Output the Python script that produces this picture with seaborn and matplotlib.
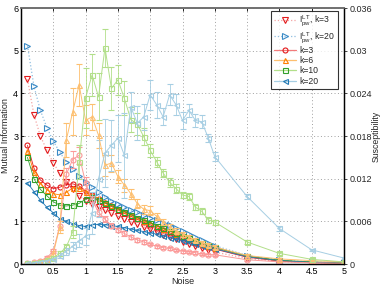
import numpy as np
import pandas as pd
import matplotlib
matplotlib.use("Agg")
import matplotlib.pyplot as plt
import seaborn as sns
from matplotlib.lines import Line2D

noise = [0.1, 0.2, 0.3, 0.4, 0.5, 0.6, 0.7, 0.8, 0.9, 1.0,
         1.1, 1.2, 1.3, 1.4, 1.5, 1.6, 1.7, 1.8, 1.9, 2.0,
         2.1, 2.2, 2.3, 2.4, 2.5, 2.6, 2.7, 2.8, 2.9, 3.0,
         3.5, 4.0, 4.5, 5.0]

# Mutual information (left axis)
ipw_k3 = [4.33, 3.50, 3.00, 2.67, 2.37, 2.13, 1.93, 1.75, 1.60, 1.48,
          1.40, 1.33, 1.26, 1.19, 1.12, 1.05, 0.99, 0.93, 0.87, 0.81,
          0.75, 0.69, 0.63, 0.58, 0.52, 0.47, 0.42, 0.37, 0.32, 0.28,
          0.13, 0.06, 0.03, 0.02]
ipw_k20 = [5.12, 4.17, 3.60, 3.20, 2.88, 2.62, 2.40, 2.22, 2.07, 1.93,
           1.80, 1.68, 1.57, 1.48, 1.40, 1.33, 1.27, 1.21, 1.15, 1.09,
           1.03, 0.97, 0.91, 0.85, 0.78, 0.71, 0.64, 0.57, 0.50, 0.43,
           0.20, 0.09, 0.05, 0.02]
mi_k3 = [2.78, 2.25, 1.97, 1.85, 1.77, 1.80, 1.86, 1.88, 1.83, 1.72,
         1.62, 1.52, 1.43, 1.35, 1.27, 1.19, 1.12, 1.05, 0.98, 0.92,
         0.85, 0.79, 0.73, 0.68, 0.62, 0.56, 0.50, 0.45, 0.40, 0.35,
         0.16, 0.07, 0.03, 0.02]
mi_k6 = [2.65, 2.15, 1.88, 1.74, 1.65, 1.62, 1.68, 1.78, 1.78, 1.70,
         1.62, 1.54, 1.46, 1.38, 1.30, 1.22, 1.15, 1.08, 1.02, 0.96,
         0.89, 0.83, 0.77, 0.71, 0.65, 0.59, 0.53, 0.48, 0.43, 0.38,
         0.18, 0.08, 0.04, 0.02]
mi_k10 = [2.50, 2.00, 1.75, 1.60, 1.46, 1.38, 1.36, 1.38, 1.42, 1.52,
          1.56, 1.50, 1.44, 1.37, 1.30, 1.23, 1.16, 1.09, 1.03, 0.97,
          0.90, 0.84, 0.78, 0.72, 0.66, 0.60, 0.54, 0.49, 0.44, 0.39,
          0.19, 0.09, 0.05, 0.03]
mi_k20 = [1.90, 1.70, 1.50, 1.33, 1.20, 1.06, 1.00, 0.95, 0.90, 0.88,
          0.92, 0.93, 0.92, 0.90, 0.88, 0.85, 0.82, 0.79, 0.76, 0.73,
          0.70, 0.66, 0.62, 0.58, 0.55, 0.51, 0.47, 0.43, 0.40, 0.36,
          0.17, 0.08, 0.04, 0.02]

# Susceptibility (right axis)
chi_k3 = [0.00012, 0.00024, 0.00048, 0.0009, 0.0018, 0.0054, 0.0126, 0.0147, 0.0153, 0.0114,
          0.0090, 0.0073, 0.0063, 0.0054, 0.0048, 0.0043, 0.0038, 0.0034, 0.0031, 0.0028,
          0.0025, 0.0023, 0.0022, 0.0020, 0.0018, 0.0017, 0.0016, 0.0014, 0.0013, 0.0013,
          0.0006, 0.0003, 0.00018, 0.00012]
chi_k6 = [0.00012, 0.00024, 0.00042, 0.00072, 0.0015, 0.0052, 0.0174, 0.0214, 0.0252, 0.0202,
          0.0207, 0.0181, 0.0139, 0.0142, 0.0123, 0.0111, 0.0099, 0.0085, 0.0077, 0.0075,
          0.0067, 0.0059, 0.0052, 0.0047, 0.0042, 0.0038, 0.0034, 0.0030, 0.0027, 0.0024,
          0.0012, 0.00072, 0.00048, 0.0003]
chi_k10 = [0.00012, 0.00018, 0.0003, 0.00054, 0.0009, 0.0015, 0.0024, 0.0045, 0.0144, 0.0234,
           0.0266, 0.0235, 0.0304, 0.0247, 0.0259, 0.0233, 0.0203, 0.0197, 0.0179, 0.0160,
           0.0144, 0.0128, 0.0115, 0.0106, 0.0097, 0.0095, 0.0080, 0.0074, 0.0062, 0.0059,
           0.0031, 0.0015, 0.00066, 0.0003]
chi_k20 = [0.00012, 0.00018, 0.0003, 0.00048, 0.00072, 0.0012, 0.0018, 0.0025, 0.0033, 0.0039,
           0.0072, 0.0120, 0.0156, 0.0167, 0.0177, 0.0153, 0.0221, 0.0198, 0.0207, 0.0238,
           0.0224, 0.0207, 0.0238, 0.0224, 0.0202, 0.0216, 0.0202, 0.0200, 0.0177, 0.0151,
           0.0095, 0.0050, 0.0020, 0.00084]

err_k3 = [0.00006, 0.00006, 0.00012, 0.00018, 0.0003, 0.0006, 0.0009, 0.0012, 0.0012, 0.0009,
          0.0006, 0.00048, 0.00042, 0.00036, 0.0003, 0.0003, 0.00024, 0.00024, 0.00024, 0.00018,
          0.00018, 0.00018, 0.00018, 0.00018, 0.00018, 0.00018, 0.00018, 0.00018, 0.00018, 0.00018,
          0.00012, 0.00012, 0.00006, 0.00006]
err_k6 = [0.00006, 0.00006, 0.00012, 0.00018, 0.0003, 0.0009, 0.0024, 0.0033, 0.0030, 0.0021,
          0.0018, 0.0018, 0.0015, 0.0012, 0.0009, 0.0009, 0.00072, 0.0006, 0.0006, 0.0006,
          0.00048, 0.00048, 0.00042, 0.00036, 0.00036, 0.0003, 0.0003, 0.0003, 0.00024, 0.00024,
          0.00018, 0.00018, 0.00012, 0.00012]
err_k10 = [0.00006, 0.00006, 0.00012, 0.00012, 0.00018, 0.0003, 0.00048, 0.0009, 0.0024, 0.0042,
           0.0030, 0.0033, 0.0027, 0.0030, 0.0021, 0.0024, 0.0018, 0.0015, 0.0012, 0.0009,
           0.00072, 0.0006, 0.0006, 0.0006, 0.00048, 0.00048, 0.00042, 0.00042, 0.00036, 0.00036,
           0.00024, 0.00018, 0.00012, 0.00012]
err_k20 = [0.00006, 0.00006, 0.00012, 0.00012, 0.00018, 0.0003, 0.00048, 0.0006, 0.0009, 0.0012,
           0.0030, 0.0054, 0.0048, 0.0036, 0.0033, 0.0060, 0.0021, 0.0024, 0.0018, 0.0021,
           0.0018, 0.0012, 0.0015, 0.0015, 0.0012, 0.0009, 0.0009, 0.0009, 0.0006, 0.0006,
           0.0003, 0.0003, 0.00018, 0.00012]

legend_labels = [r"$I^{LT}_{pw}$, k=3", r"$I^{LT}_{pw}$, k=20", "k=3", "k=6", "k=10", "k=20"]

sns.set_style("white")
plt.rcParams["font.family"] = ["Liberation Sans", "DejaVu Sans"]
plt.rcParams["mathtext.fontset"] = "custom"
plt.rcParams["mathtext.rm"] = "Liberation Sans"
plt.rcParams["mathtext.it"] = "Liberation Sans"

dark = {"k3": "#e31a1c", "k6": "#ff7f00", "k10": "#33a02c", "k20": "#1f78b4"}
light = {"k3": "#fb9a99", "k6": "#fdbf6f", "k10": "#b2df8a", "k20": "#a6cee3"}
marks = {"k3": "o", "k6": "^", "k10": "s", "k20": "<"}
MS = 3.6

fig = plt.figure(figsize=(3.82, 2.87), dpi=100)
ax = fig.add_axes([0.055, 0.080, 0.8455, 0.892])
ax2 = ax.twinx()

ax.set_xlim(0, 5)
ax.set_ylim(0, 6)
ax.set_xticks(np.arange(0, 5.01, 0.5))
ax.set_yticks(np.arange(0, 6.01, 1))
ax.grid(True, linestyle=(0, (1, 2.5)), color="#a0a0a0", linewidth=0.7)

sns.lineplot(x=noise, y=ipw_k3, ax=ax, color="#f4a5a4", linestyle=":", linewidth=0.9,
             marker="v", markersize=MS + 0.6, markerfacecolor="none", markeredgecolor="#e31a1c",
             markeredgewidth=0.8, zorder=3)
sns.lineplot(x=noise, y=ipw_k20, ax=ax, color="#8fbde0", linestyle=":", linewidth=0.9,
             marker=">", markersize=MS + 0.6, markerfacecolor="none", markeredgecolor="#3a8ac6",
             markeredgewidth=0.8, zorder=3)

for key, vals in [("k3", mi_k3), ("k6", mi_k6), ("k10", mi_k10), ("k20", mi_k20)]:
    sns.lineplot(x=noise, y=vals, ax=ax, color=dark[key], linewidth=0.6,
                 marker=marks[key], markersize=MS, markerfacecolor="none",
                 markeredgecolor=dark[key], markeredgewidth=0.8, zorder=4)

for key, vals, err in [("k3", chi_k3, err_k3), ("k6", chi_k6, err_k6),
                       ("k10", chi_k10, err_k10), ("k20", chi_k20, err_k20)]:
    ax2.errorbar(noise, vals, yerr=err, color=light[key], linewidth=0.7,
                 marker=marks[key], markersize=MS, markerfacecolor="none",
                 markeredgecolor=light[key], markeredgewidth=0.8,
                 elinewidth=0.6, capsize=2, capthick=0.6)

ax2.set_ylim(0, 0.036)
ax2.set_yticks([0, 0.006, 0.012, 0.018, 0.024, 0.03, 0.036])
ax2.set_yticklabels(["0", "0.006", "0.012", "0.018", "0.024", "0.03", "0.036"])

ax.set_xticklabels(["0", "0.5", "1", "1.5", "2", "2.5", "3", "3.5", "4", "4.5", "5"])
ax.set_yticklabels(["0", "1", "2", "3", "4", "5", "6"])

for a in (ax, ax2):
    for s in ["left", "right", "bottom"]:
        a.spines[s].set_color("black")
        a.spines[s].set_linewidth(0.9)
    a.spines["top"].set_color("#707070")
    a.spines["top"].set_linewidth(1.2)

ax.tick_params(axis="both", labelsize=6.5, length=2.5, width=0.6, direction="in",
               top=True, pad=2, colors="black")
ax2.tick_params(axis="y", labelsize=6.5, length=2.5, width=0.6, direction="out", pad=1.5)

ax.set_xlabel("Noise", fontsize=6.5, labelpad=0.5)
ax.set_ylabel("Mutual Information", fontsize=6.5, labelpad=2)
ax2.set_ylabel("Susceptibility", fontsize=6.3, rotation=90)
ax2.yaxis.set_label_coords(1.086, 0.5)

handles = [
    Line2D([], [], color="#f4a5a4", linestyle=":", linewidth=0.9, marker="v", markersize=MS + 0.6,
           markerfacecolor="none", markeredgecolor="#e31a1c", markeredgewidth=0.8),
    Line2D([], [], color="#8fbde0", linestyle=":", linewidth=0.9, marker=">", markersize=MS + 0.6,
           markerfacecolor="none", markeredgecolor="#3a8ac6", markeredgewidth=0.8),
]
for key in ["k3", "k6", "k10", "k20"]:
    handles.append(Line2D([], [], color=light[key] if key != "k3" else "#f27b7b", linewidth=0.9,
                          marker=marks[key], markersize=MS, markerfacecolor="none",
                          markeredgecolor=dark[key], markeredgewidth=0.8))
leg = ax2.legend(handles, legend_labels, loc="upper right", bbox_to_anchor=(0.981, 0.99),
                 fontsize=6.2, frameon=True, fancybox=False, edgecolor="black",
                 handlelength=2.6, handletextpad=0.3, labelspacing=0.15, borderpad=0.35,
                 borderaxespad=0)
leg.get_frame().set_linewidth(0.8)

fig.savefig("out.png", dpi=100)
